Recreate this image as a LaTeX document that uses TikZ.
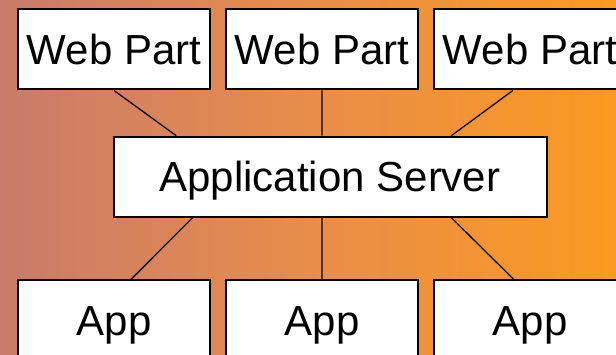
\documentclass[tikz,border=0pt]{standalone}
\usepackage{fontspec}
\setmainfont{Liberation Sans}
\usetikzlibrary{calc}
\definecolor{bgleft}{HTML}{C97B6B}
\definecolor{bgmid}{HTML}{E88D4A}
\definecolor{bgright}{HTML}{FA9A20}
\tikzset{
  box/.style={draw=black, line width=2pt, fill=white, inner sep=0pt,
    text depth=0pt, font=\fontsize{42}{50}\selectfont},
  wpbox/.style={box, minimum width=192pt, minimum height=80pt},
  srvbox/.style={box, minimum width=433pt, minimum height=80pt},
  appbox/.style={box, minimum width=192pt, minimum height=82pt},
  link/.style={draw=black, line width=1.3pt}
}
\begin{document}
\begin{tikzpicture}[x=1pt, y=-1pt]
\useasboundingbox (0,0) rectangle (616,355);
\clip (0,0) rectangle (616,355);
\shade[left color=bgleft, right color=bgright, middle color=bgmid] (0,0) rectangle (616,355);
% nodes
\node[wpbox] (wp1) at (114,49.5) {Web Part};
\node[wpbox] (wp2) at (322,49.5) {Web Part};
\node[wpbox] (wp3) at (530,49.5) {Web Part};
\node[srvbox] (srv) at (330,176.7) {Application Server};
\node[appbox] (app1) at (114,321.5) {App};
\node[appbox] (app2) at (322,321.5) {App};
\node[appbox] (app3) at (530,321.5) {App};
% connectors
\draw[link] (wp1.south) -- ($(srv.north west)!0.1466!(srv.north east)$);
\draw[link] (wp2.south) -- ($(srv.north west)!0.4815!(srv.north east)$);
\draw[link] ($(wp3.south west)!0.4115!(wp3.south east)$) -- ($(srv.north west)!0.779!(srv.north east)$);
\draw[link] ($(srv.south west)!0.184!(srv.south east)$) -- ($(app1.north west)!0.587!(app1.north east)$);
\draw[link] ($(srv.south west)!0.4815!(srv.south east)$) -- (app2.north);
\draw[link] ($(srv.south west)!0.779!(srv.south east)$) -- ($(app3.north west)!0.4167!(app3.north east)$);
\end{tikzpicture}
\end{document}
